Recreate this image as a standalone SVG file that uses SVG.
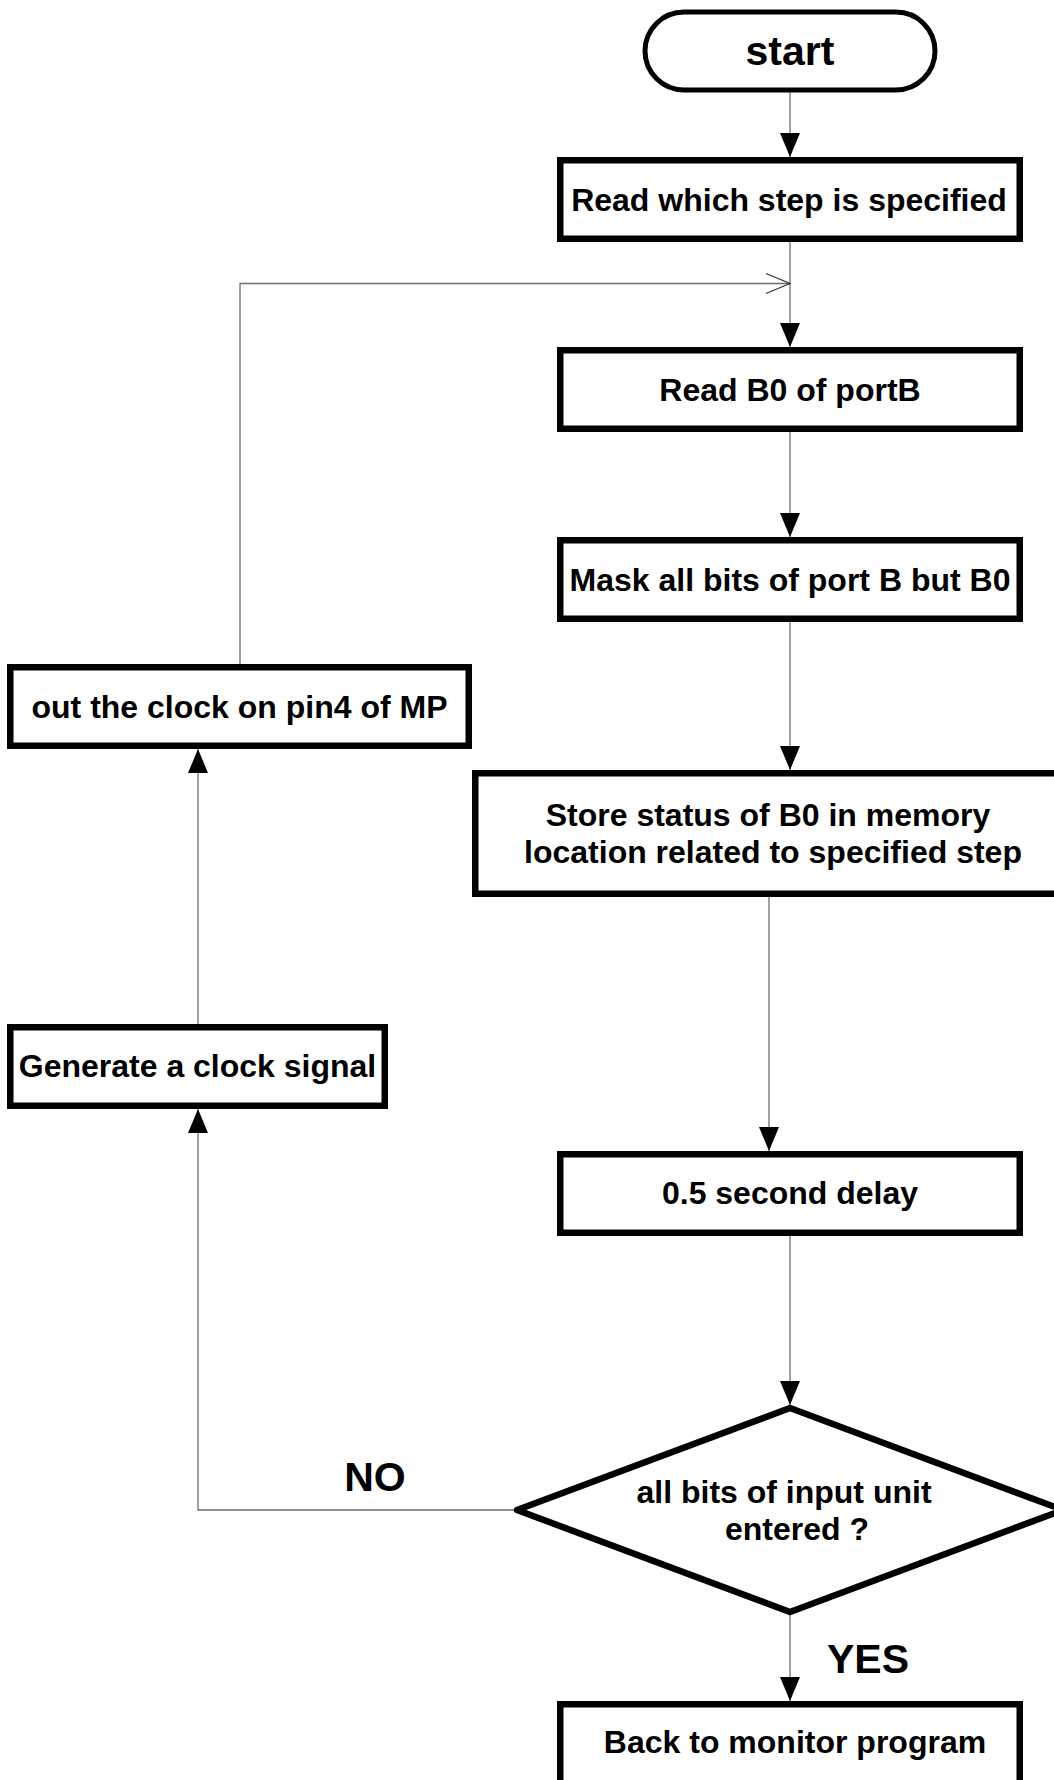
<svg xmlns="http://www.w3.org/2000/svg" width="1054" height="1780" viewBox="0 0 1054 1780">
  <style>
    .box { fill: #ffffff; stroke: #000000; stroke-width: 6.5; }
    .term { fill: #ffffff; stroke: #000000; stroke-width: 5; }
    .dec { fill: #ffffff; stroke: #000000; stroke-width: 6.5; stroke-linejoin: round; }
    .wire { fill: none; stroke: #6e6e6e; stroke-width: 1.3; }
    .lbl { font-family: "Liberation Sans", Arial, sans-serif; font-weight: bold; font-size: 32px; fill: #000000; text-anchor: middle; }
    .big { font-family: "Liberation Sans", Arial, sans-serif; font-weight: bold; font-size: 41px; fill: #000000; text-anchor: middle; }
  </style>
  <defs>
    <marker id="arrow" viewBox="0 0 24 20" refX="24" refY="10" markerWidth="24" markerHeight="20" markerUnits="userSpaceOnUse" orient="auto">
      <path d="M0,0 L24,10 L0,20 Z" fill="#000000"/>
    </marker>
    <marker id="open" viewBox="-1 -1 26 22" refX="24" refY="10" markerWidth="26" markerHeight="22" markerUnits="userSpaceOnUse" orient="auto">
      <path d="M0,0 L24,10 L0,20" fill="none" stroke="#333333" stroke-width="1.2"/>
    </marker>
  </defs>

  <rect width="1054" height="1780" fill="#ffffff"/>

  <!-- connectors -->
  <g id="connectors">
    <line class="wire" x1="790" y1="90" x2="790" y2="157" marker-end="url(#arrow)"/>
    <line class="wire" x1="790" y1="242" x2="790" y2="347" marker-end="url(#arrow)"/>
    <polyline class="wire" points="240,664 240,283.5 790,283.5" marker-end="url(#open)"/>
    <line class="wire" x1="790" y1="432" x2="790" y2="537" marker-end="url(#arrow)"/>
    <line class="wire" x1="790" y1="622" x2="790" y2="770" marker-end="url(#arrow)"/>
    <line class="wire" x1="769" y1="897" x2="769" y2="1151" marker-end="url(#arrow)"/>
    <line class="wire" x1="790" y1="1236" x2="790" y2="1405" marker-end="url(#arrow)"/>
    <line class="wire" x1="790" y1="1615" x2="790" y2="1701" marker-end="url(#arrow)"/>
    <polyline class="wire" points="515,1510 198,1510 198,1109" marker-end="url(#arrow)"/>
    <line class="wire" x1="198" y1="1024" x2="198" y2="749" marker-end="url(#arrow)"/>
  </g>

  <!-- start terminal -->
  <g id="start">
    <rect class="term" x="645" y="12" width="290" height="78" rx="39" ry="39"/>
    <text class="big" x="790" y="65">start</text>
  </g>

  <g id="read-step">
    <rect class="box" x="560.25" y="160.25" width="459.5" height="78.5"/>
    <text class="lbl" x="789" y="211">Read which step is specified</text>
  </g>

  <g id="read-b0">
    <rect class="box" x="560.25" y="350.25" width="459.5" height="78.5"/>
    <text class="lbl" x="790" y="401">Read B0 of portB</text>
  </g>

  <g id="mask">
    <rect class="box" x="560.25" y="540.25" width="459.5" height="78.5"/>
    <text class="lbl" x="790" y="591">Mask all bits of port B but B0</text>
  </g>

  <g id="store">
    <rect class="box" x="475.25" y="773.25" width="600" height="120.5"/>
    <text class="lbl" x="768" y="826">Store status of B0 in memory</text>
    <text class="lbl" x="773" y="863">location related to specified step</text>
  </g>

  <g id="out-clock">
    <rect class="box" x="10.25" y="667.25" width="458.5" height="78.5"/>
    <text class="lbl" x="239.5" y="718">out the clock on pin4 of MP</text>
  </g>

  <g id="gen-clock">
    <rect class="box" x="10.25" y="1027.25" width="374.5" height="78.5"/>
    <text class="lbl" x="197.5" y="1077">Generate a clock signal</text>
  </g>

  <g id="delay">
    <rect class="box" x="560.25" y="1154.25" width="459.5" height="78.5"/>
    <text class="lbl" x="790" y="1204">0.5 second delay</text>
  </g>

  <g id="check">
    <polygon class="dec" points="790,1408 1063,1510 790,1612 517,1510"/>
    <text class="lbl" x="784" y="1503">all bits of input unit</text>
    <text class="lbl" x="797" y="1540">entered ?</text>
  </g>

  <g id="back">
    <rect class="box" x="560.25" y="1704.25" width="459.5" height="90"/>
    <text class="lbl" x="795" y="1753">Back to monitor program</text>
  </g>

  <!-- branch labels -->
  <g id="labels">
    <text class="big" x="375" y="1491">NO</text>
    <text class="big" x="868" y="1673">YES</text>
  </g>
</svg>
